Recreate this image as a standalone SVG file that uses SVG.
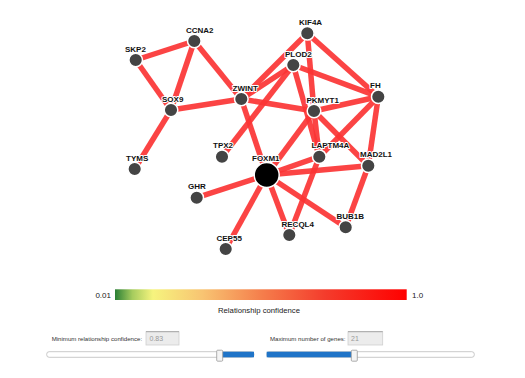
<svg xmlns="http://www.w3.org/2000/svg" width="525" height="378" viewBox="0 0 525 378">
<defs>
<style>
.e{stroke:#fb3434;stroke-width:5.5;stroke-opacity:0.92;fill:none}
.n{fill:#444;stroke:#fff;stroke-width:1.5}
.big{fill:#000;stroke:#fff;stroke-width:1.5}
.l{font-family:"Liberation Sans",Arial,sans-serif;font-size:8px;font-weight:bold;fill:#111;stroke:#fff;stroke-width:2;paint-order:stroke;stroke-linejoin:round}
.t{font-family:"Liberation Sans",Arial,sans-serif;fill:#222}
.ui{font-family:"Liberation Sans",Arial,sans-serif;font-size:6.1px;fill:#333}
.val{font-family:"Liberation Sans",Arial,sans-serif;font-size:7px;fill:#999}
.box{fill:#ececec;stroke:#cfcfcf;stroke-width:0.8}
.track{fill:#fff;stroke:#bbb;stroke-width:0.8}
.blue{fill:#1f74c8}
.handle{fill:#f4f4f4;stroke:#999;stroke-width:0.8}
</style>
<linearGradient id="g" x1="0" y1="0" x2="1" y2="0">
<stop offset="0" stop-color="#2a7f35"/>
<stop offset="0.06" stop-color="#a6cc5e"/>
<stop offset="0.13" stop-color="#f6f47e"/>
<stop offset="0.3" stop-color="#f8c472"/>
<stop offset="0.5" stop-color="#f57f4c"/>
<stop offset="0.72" stop-color="#f43c2c"/>
<stop offset="1" stop-color="#ff0000"/>
</linearGradient>
</defs>
<rect width="525" height="378" fill="#fff"/>
<g id="connectors">
<line class="e" x1="135.7" y1="60" x2="194.3" y2="41"/>
<line class="e" x1="135.7" y1="60" x2="171" y2="110"/>
<line class="e" x1="194.3" y1="41" x2="171" y2="110"/>
<line class="e" x1="194.3" y1="41" x2="241.3" y2="99"/>
<line class="e" x1="171" y1="110" x2="241.3" y2="99"/>
<line class="e" x1="171" y1="110" x2="134.7" y2="169"/>
<line class="e" x1="241.3" y1="99" x2="307.3" y2="33.3"/>
<line class="e" x1="241.3" y1="99" x2="293.3" y2="65"/>
<line class="e" x1="241.3" y1="99" x2="314" y2="111"/>
<line class="e" x1="241.3" y1="99" x2="266.7" y2="175"/>
<line class="e" x1="293.3" y1="65" x2="222" y2="156.7"/>
<line class="e" x1="293.3" y1="65" x2="378.3" y2="96.7"/>
<line class="e" x1="293.3" y1="65" x2="319.3" y2="156.7"/>
<line class="e" x1="307.3" y1="33.3" x2="314" y2="111"/>
<line class="e" x1="307.3" y1="33.3" x2="378.3" y2="96.7"/>
<line class="e" x1="314" y1="111" x2="378.3" y2="96.7"/>
<line class="e" x1="314" y1="111" x2="319.3" y2="156.7"/>
<line class="e" x1="314" y1="111" x2="266.7" y2="175"/>
<line class="e" x1="314" y1="111" x2="368.3" y2="165.7"/>
<line class="e" x1="378.3" y1="96.7" x2="319.3" y2="156.7"/>
<line class="e" x1="378.3" y1="96.7" x2="368.3" y2="165.7"/>
<line class="e" x1="266.7" y1="175" x2="319.3" y2="156.7"/>
<line class="e" x1="266.7" y1="175" x2="368.3" y2="165.7"/>
<line class="e" x1="266.7" y1="175" x2="196.7" y2="197.7"/>
<line class="e" x1="266.7" y1="175" x2="225.7" y2="249"/>
<line class="e" x1="266.7" y1="175" x2="289.3" y2="235"/>
<line class="e" x1="266.7" y1="175" x2="345.7" y2="227.3"/>
<line class="e" x1="319.3" y1="156.7" x2="289.3" y2="235"/>
<line class="e" x1="368.3" y1="165.7" x2="345.7" y2="227.3"/>
</g>
<g id="SKP2"><circle class="n" cx="135.7" cy="60" r="6.8"/><text class="l" x="125" y="51.5">SKP2</text></g>
<g id="CCNA2"><circle class="n" cx="194.3" cy="41" r="6.8"/><text class="l" x="186" y="32.5">CCNA2</text></g>
<g id="SOX9"><circle class="n" cx="171" cy="110" r="6.8"/><text class="l" x="162" y="101.5">SOX9</text></g>
<g id="ZWINT"><circle class="n" cx="241.3" cy="99" r="6.8"/><text class="l" x="232.5" y="90.5">ZWINT</text></g>
<g id="TYMS"><circle class="n" cx="134.7" cy="169" r="6.8"/><text class="l" x="126" y="160.5">TYMS</text></g>
<g id="TPX2"><circle class="n" cx="222" cy="156.7" r="6.8"/><text class="l" x="213" y="148.2">TPX2</text></g>
<g id="KIF4A"><circle class="n" cx="307.3" cy="33.3" r="6.8"/><text class="l" x="299" y="24.8">KIF4A</text></g>
<g id="PLOD2"><circle class="n" cx="293.3" cy="65" r="6.8"/><text class="l" x="285" y="56.5">PLOD2</text></g>
<g id="FH"><circle class="n" cx="378.3" cy="96.7" r="6.8"/><text class="l" x="370" y="88.2">FH</text></g>
<g id="PKMYT1"><circle class="n" cx="314" cy="111" r="6.8"/><text class="l" x="306.5" y="102.5">PKMYT1</text></g>
<g id="LAPTM4A"><circle class="n" cx="319.3" cy="156.7" r="6.8"/><text class="l" x="311.5" y="148.2">LAPTM4A</text></g>
<g id="MAD2L1"><circle class="n" cx="368.3" cy="165.7" r="6.8"/><text class="l" x="360" y="157.2">MAD2L1</text></g>
<g id="FOXM1"><circle class="big" cx="266.7" cy="175" r="12.5"/><text class="l" x="252" y="160.5">FOXM1</text></g>
<g id="GHR"><circle class="n" cx="196.7" cy="197.7" r="6.8"/><text class="l" x="188" y="189.2">GHR</text></g>
<g id="CEP55"><circle class="n" cx="225.7" cy="249" r="6.8"/><text class="l" x="216.5" y="240.5">CEP55</text></g>
<g id="RECQL4"><circle class="n" cx="289.3" cy="235" r="6.8"/><text class="l" x="281.5" y="226.5">RECQL4</text></g>
<g id="BUB1B"><circle class="n" cx="345.7" cy="227.3" r="6.8"/><text class="l" x="336.5" y="218.8">BUB1B</text></g>
<g id="legend">
<rect x="115" y="289.3" width="291.7" height="10.7" fill="url(#g)"/>
<text class="t" x="111" y="298" font-size="8" text-anchor="end">0.01</text>
<text class="t" x="412" y="298" font-size="8">1.0</text>
<text class="t" x="259" y="312.5" font-size="8" text-anchor="middle" textLength="82" lengthAdjust="spacingAndGlyphs">Relationship confidence</text>
</g>
<g id="min-slider">
<text class="ui" x="51.7" y="341">Minimum relationship confidence:</text>
<rect class="box" x="146" y="331.7" width="33" height="13.3"/>
<line x1="146" y1="331.7" x2="179" y2="331.7" stroke="#999" stroke-width="0.8"/>
<text class="val" x="149.5" y="341">0.83</text>
<rect class="track" x="46.7" y="351.7" width="207.3" height="5.6" rx="2.5"/>
<rect class="blue" x="221" y="351.7" width="33" height="5.6"/>
<rect class="handle" x="216.7" y="350.2" width="6" height="11" rx="1"/>
</g>
<g id="max-slider">
<text class="ui" x="270" y="341">Maximum number of genes:</text>
<rect class="box" x="348" y="331.7" width="34.7" height="13.3"/>
<line x1="348" y1="331.7" x2="382.7" y2="331.7" stroke="#999" stroke-width="0.8"/>
<text class="val" x="351" y="341">21</text>
<rect class="track" x="266.7" y="351.7" width="207.6" height="5.6" rx="2.5"/>
<rect class="blue" x="266.7" y="351.7" width="85" height="5.6"/>
<rect class="handle" x="351.3" y="350.2" width="6" height="11" rx="1"/>
</g>
</svg>
